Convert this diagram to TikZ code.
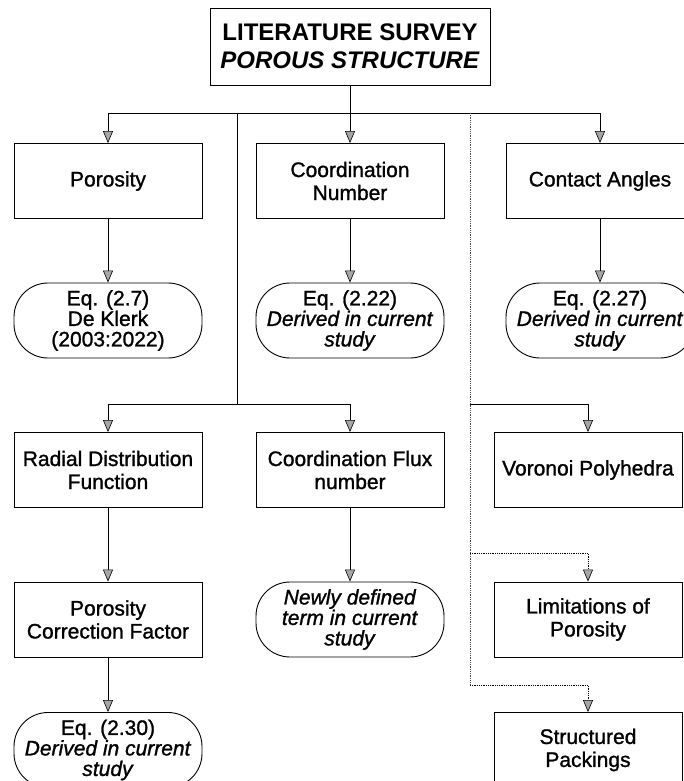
\documentclass[tikz,border=0pt]{standalone}
\usepackage{fontspec}
\setmainfont{Liberation Sans}
\newfontfamily\scanfont{Liberation Sans}[FakeBold=1.2]
\usetikzlibrary{arrows.meta}

\tikzset{
    kasten/.style={draw, line width=0.9pt, minimum width=188pt, minimum height=75pt,
        inner sep=2pt, align=center, font=\scanfont\fontsize{21}{23}\selectfont},
    oval/.style={kasten, rounded corners=34pt, font=\scanfont\fontsize{21}{20.5}\selectfont},
    linie/.style={line width=0.8pt},
    pfeil/.style={linie, -{Triangle[width=10pt,length=12pt,fill=gray!70,line width=0.6pt]}},
    punkt/.style={linie, densely dotted, gray!60!black}
}

\begin{document}
\begin{tikzpicture}[x=1pt,y=-1pt]
            % Bildgröße
            \useasboundingbox (0,0) rectangle (684,781);

            % Titel
            \node[draw, line width=0.9pt, minimum width=280pt, minimum height=77pt, align=center,
                font=\bfseries\fontsize{24}{28}\selectfont] (titel) at (350,46.5)
                {LITERATURE SURVEY\\\textit{POROUS STRUCTURE}};

            % Erste Reihe
            \node[kasten] (por) at (108,181) {Porosity};
            \node[kasten] (cn)  at (350,181) {Coordination\\Number};
            \node[kasten] (ca)  at (600,181) {Contact Angles};

            \node[oval] (poreq) at (108,320.5) {Eq. (2.7)\\De Klerk\\(2003:2022)};
            \node[oval] (cneq)  at (350,320.5) {Eq. (2.22)\\\textit{Derived in current}\\\textit{study}};
            \node[oval] (caeq)  at (600,320.5) {Eq. (2.27)\\\textit{Derived in current}\\\textit{study}};

            % Zweite Reihe
            \node[kasten] (rdf) at (108,470) {Radial Distribution\\Function};
            \node[kasten] (cfn) at (350,470) {Coordination Flux\\number};
            \node[kasten] (vor) at (588,470) {Voronoi Polyhedra};

            \node[kasten] (pcf)   at (108,619.5) {Porosity\\Correction Factor};
            \node[oval]   (cfneq) at (350,619.5) {\textit{Newly defined}\\\textit{term in current}\\\textit{study}};
            \node[kasten] (lim)   at (588,619.5) {Limitations of\\Porosity};

            \node[oval]   (pcfeq) at (108,750) {Eq. (2.30)\\\textit{Derived in current}\\\textit{study}};
            \node[kasten] (sp)    at (588,750) {Structured\\Packings};

            % Verzweigungspunkte
            \coordinate (k1) at (350,113);
            \coordinate (lv) at (237,113);
            \coordinate (rv) at (470,113);
            \coordinate (k2) at (237,404);
            \coordinate (r2) at (470,404);
            \coordinate (r3) at (470,553);
            \coordinate (r4) at (470,685);

            % Verbindungen
            \draw[linie] (titel) -- (k1);
            \draw[pfeil] (k1) -| (por);
            \draw[pfeil] (k1) -- (cn);
            \draw[pfeil] (k1) -| (ca);
            \draw[linie] (lv) -- (k2);
            \draw[pfeil] (k2) -| (rdf);
            \draw[pfeil] (k2) -| (cfn);
            \draw[punkt] (rv) -- (r4);
            \draw[pfeil] (r2) -| (vor);
            \draw[pfeil, densely dotted] (r3) -| (lim);
            \draw[pfeil, densely dotted] (r4) -| (sp);

            \foreach \a/\b in {por/poreq, cn/cneq, ca/caeq, rdf/pcf, cfn/cfneq, pcf/pcfeq} {
                \draw[pfeil] (\a) -- (\b);
            }
\end{tikzpicture}
\end{document}
